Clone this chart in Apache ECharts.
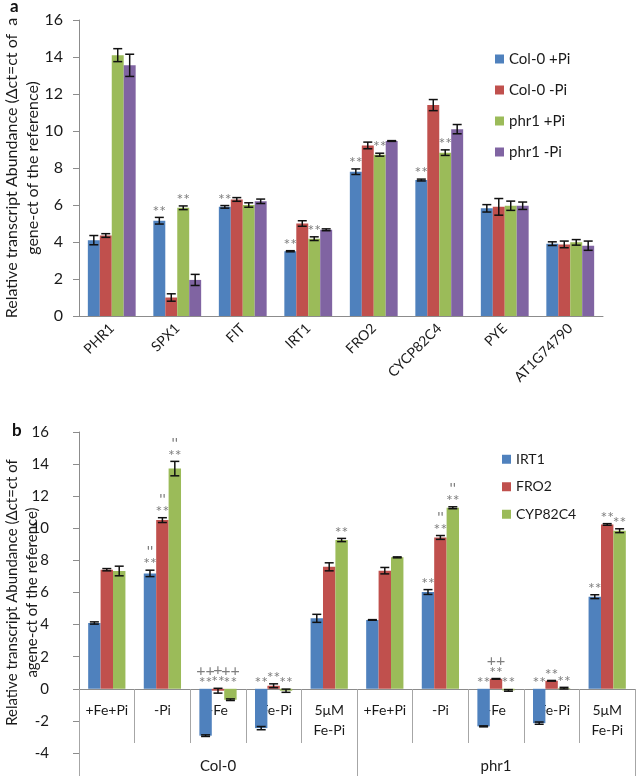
<!DOCTYPE html>
<html>
<head>
<meta charset="utf-8">
<script src="https://cdn.jsdelivr.net/npm/echarts@6/dist/echarts.min.js"></script>
<style>
html, body { margin: 0; padding: 0; background: #fff; }
#chart { width: 638px; height: 776px; }
</style>
</head>
<body>
<div id="chart"></div>
<script>
// ---- panel a ----
const genesA = ["PHR1", "SPX1", "FIT", "IRT1", "FRO2", "CYCP82C4", "PYE", "AT1G74790"];
const namesA = ["Col-0 +Pi", "Col-0 -Pi", "phr1 +Pi", "phr1 -Pi"];
const col0PlusPi = [4.1, 5.15, 5.9, 3.5, 7.8, 7.35, 5.82, 3.91];
const col0MinusPi = [4.35, 1.0, 6.3, 5.0, 9.22, 11.4, 5.9, 3.87];
const phr1PlusPi = [14.1, 5.85, 6.0, 4.18, 8.72, 8.83, 5.96, 3.98];
const phr1MinusPi = [13.55, 1.95, 6.2, 4.66, 9.46, 10.1, 5.96, 3.8];
const col0PlusPiErr = [0.25, 0.18, 0.07, 0.03, 0.15, 0.05, 0.2, 0.1];
const col0MinusPiErr = [0.1, 0.2, 0.1, 0.15, 0.18, 0.3, 0.45, 0.18];
const phr1PlusPiErr = [0.35, 0.1, 0.12, 0.1, 0.08, 0.15, 0.25, 0.15];
const phr1MinusPiErr = [0.6, 0.3, 0.12, 0.05, 0.02, 0.25, 0.2, 0.25];
const col0PlusPiMark = ["", "**", "**", "**", "**", "**", "", ""];
const col0MinusPiMark = ["", "", "", "", "", "", "", ""];
const phr1PlusPiMark = ["", "**", "", "**", "**", "**", "", ""];
const phr1MinusPiMark = ["", "", "", "", "", "", "", ""];

// ---- panel b ----
const conditionsB = ["+Fe+Pi", "-Pi", "-Fe", "-Fe-Pi", "5μM\nFe-Pi", "+Fe+Pi", "-Pi", "-Fe", "-Fe-Pi", "5μM\nFe-Pi"];
const groupsB = ["Col-0", "phr1"];
const namesB = ["IRT1", "FRO2", "CYP82C4"];
const irt1 = [4.1, 7.19, -2.92, -2.45, 4.39, 4.29, 6.03, -2.34, -2.14, 5.74];
const fro2 = [7.42, 10.51, -0.12, 0.19, 7.6, 7.36, 9.43, 0.62, 0.5, 10.24];
const cyp82c4 = [7.34, 13.72, -0.68, -0.12, 9.27, 8.19, 11.28, -0.1, 0.04, 9.85];
const irt1Err = [0.07, 0.2, 0.05, 0.1, 0.25, 0.02, 0.15, 0.03, 0.07, 0.12];
const fro2Err = [0.07, 0.15, 0.15, 0.12, 0.25, 0.2, 0.12, 0.02, 0.02, 0.05];
const cyp82c4Err = [0.3, 0.45, 0.05, 0.1, 0.1, 0.03, 0.06, 0.05, 0.05, 0.12];
const irt1Mark = ["", "''\n**", "++\n**", "**", "", "", "**", "**", "**", "**"];
const fro2Mark = ["", "''\n**", "+\n**", "**", "", "", "''\n**", "++\n**", "**", "**"];
const cyp82c4Mark = ["", "''\n**", "++\n**", "**", "**", "", "''\n**", "**", "**", "**"];

const colors = ["#4F81BD", "#C0504D", "#9BBB59", "#8064A2"];
const font = "Lato";
const axisGray = "#8c8c8c";
const divGray = "#a6a6a6";

function errSeries(name, xi, yi, vals, errs, marks, idx, n, gap) {
  return {
    type: "custom",
    name: name + " err",
    xAxisIndex: xi,
    yAxisIndex: yi,
    z: 5,
    data: vals.map((v, i) => [i, v, errs[i]]),
    renderItem: function (params, api) {
      const cat = api.value(0), val = api.value(1), err = api.value(2);
      const band = api.size([1, 0])[0];
      const bw = band * (1 - gap) / n;
      const cx = api.coord([cat, 0])[0] + (idx - (n - 1) / 2) * bw;
      const yHi = api.coord([cat, val + err])[1];
      const yLo = api.coord([cat, val - err])[1];
      const y0 = api.coord([cat, 0])[1];
      const hw = 4.5;
      const st = { stroke: "#111", lineWidth: 1.5 };
      const children = [
        { type: "line", shape: { x1: cx, y1: yHi, x2: cx, y2: yLo }, style: st },
        { type: "line", shape: { x1: cx - hw, y1: yHi, x2: cx + hw, y2: yHi }, style: st },
        { type: "line", shape: { x1: cx - hw, y1: yLo, x2: cx + hw, y2: yLo }, style: st }
      ];
      const m = marks[params.dataIndex];
      if (m) {
        children.push({
          type: "text",
          style: {
            text: m, x: cx, y: Math.min(yHi, y0),
            align: "center", verticalAlign: "bottom",
            fill: "#7f7f7f", fontSize: 16, lineHeight: 12, fontFamily: font
          }
        });
      }
      return { type: "group", children: children };
    }
  };
}

const gapA = 0.27, gapB = 0.33;
const valsA = [col0PlusPi, col0MinusPi, phr1PlusPi, phr1MinusPi];
const errsA = [col0PlusPiErr, col0MinusPiErr, phr1PlusPiErr, phr1MinusPiErr];
const marksA = [col0PlusPiMark, col0MinusPiMark, phr1PlusPiMark, phr1MinusPiMark];
const valsB = [irt1, fro2, cyp82c4];
const errsB = [irt1Err, fro2Err, cyp82c4Err];
const marksB = [irt1Mark, fro2Mark, cyp82c4Mark];

const series = [];
namesA.forEach((nm, i) => {
  series.push({
    type: "bar", name: nm, xAxisIndex: 0, yAxisIndex: 0,
    data: valsA[i], barGap: "0%", barCategoryGap: gapA * 100 + "%",
    itemStyle: { color: colors[i] }
  });
});
namesA.forEach((nm, i) => series.push(errSeries(nm, 0, 0, valsA[i], errsA[i], marksA[i], i, 4, gapA)));
namesB.forEach((nm, i) => {
  series.push({
    type: "bar", name: nm, xAxisIndex: 1, yAxisIndex: 1,
    data: valsB[i], barGap: "0%", barCategoryGap: gapB * 100 + "%",
    itemStyle: { color: colors[i] }
  });
});
namesB.forEach((nm, i) => series.push(errSeries(nm, 1, 1, valsB[i], errsB[i], marksB[i], i, 3, gapB)));

const yAxisCommon = {
  type: "value",
  splitLine: { show: false },
  axisLine: { show: true, onZero: false, lineStyle: { color: axisGray } },
  axisTick: { show: true, length: 6, lineStyle: { color: axisGray } },
  nameLocation: "middle",
  nameRotate: 90,
  nameMoveOverlap: false
};

// panel b category labels live in a flat helper grid whose bottom edge sits on y = 0 of panel b
const condKeys = conditionsB.map((c, i) => String(i));
function labelAxis(data, extra) {
  return Object.assign({
    gridIndex: 2, type: "category", position: "bottom", data: data,
    axisLine: { show: false, onZero: false },
    axisTick: { show: false },
    axisLabel: { show: false }
  }, extra);
}

const chart = echarts.init(document.getElementById("chart"));
chart.setOption({
  animation: false,
  textStyle: { fontFamily: font },
  title: [
    { text: "a", left: 5, top: -7, textStyle: { fontSize: 17, fontWeight: "bold", color: "#111", fontFamily: font } },
    { text: "b", left: 7, top: 417, textStyle: { fontSize: 17, fontWeight: "bold", color: "#111", fontFamily: font } }
  ],
  legend: [
    {
      data: namesA, orient: "vertical", left: 490, top: 46, icon: "rect",
      itemWidth: 9, itemHeight: 9, itemGap: 15,
      textStyle: { fontSize: 15, lineHeight: 16, color: "#1a1a1a", fontFamily: font }
    },
    {
      data: namesB, orient: "vertical", left: 497, top: 447, icon: "rect",
      itemWidth: 9, itemHeight: 9, itemGap: 13,
      textStyle: { fontSize: 14, lineHeight: 14.5, color: "#1a1a1a", fontFamily: font }
    }
  ],
  grid: [
    { left: 79, top: 20, width: 524, height: 296, outerBoundsMode: "none", containLabel: false },
    { left: 79, top: 432, width: 556, height: 321, outerBoundsMode: "none", containLabel: false },
    { left: 79, top: 688, width: 556, height: 1, outerBoundsMode: "none", containLabel: false }
  ],
  xAxis: [
    {
      gridIndex: 0, type: "category", data: genesA,
      axisLine: { lineStyle: { color: axisGray } },
      axisTick: { length: 5, lineStyle: { color: axisGray } },
      axisLabel: { interval: 0, rotate: 45, margin: 10, fontSize: 14, color: "#1a1a1a" }
    },
    {
      gridIndex: 1, type: "category", data: condKeys,
      axisLine: { onZero: true, onZeroAxisIndex: 1, lineStyle: { color: axisGray } },
      axisTick: { show: false },
      axisLabel: { show: false }
    },
    labelAxis(condKeys, {
      axisLabel: {
        show: true, interval: 0, margin: 11, fontSize: 14, lineHeight: 20, color: "#1a1a1a",
        formatter: (v) => conditionsB[+v]
      }
    }),
    labelAxis(condKeys, {
      axisTick: { show: true, interval: 0, length: 54, lineStyle: { color: divGray } }
    }),
    labelAxis(groupsB, {
      axisLabel: { show: true, interval: 0, margin: 70, fontSize: 15, color: "#1a1a1a" }
    }),
    labelAxis(groupsB, {
      axisTick: { show: true, interval: 0, length: 90, lineStyle: { color: divGray } }
    })
  ],
  yAxis: [
    Object.assign({}, yAxisCommon, {
      gridIndex: 0, min: 0, max: 16, interval: 2,
      axisLabel: { margin: 16, fontSize: 16, color: "#1a1a1a" },
      name: "Relative transcript Abundance (Δct=ct of  a\ngene-ct of the reference)",
      nameGap: 36,
      nameTextStyle: { fontSize: 16, lineHeight: 21, color: "#1a1a1a", fontFamily: font }
    }),
    Object.assign({}, yAxisCommon, {
      gridIndex: 1, min: -4, max: 16, interval: 2,
      axisLabel: { margin: 30, fontSize: 15, color: "#1a1a1a" },
      name: "Relative transcript Abundance (Δct=ct of\nagene-ct of the reference)",
      nameGap: 37,
      nameTextStyle: { fontSize: 15, lineHeight: 20, color: "#1a1a1a", fontFamily: font }
    }),
    { gridIndex: 2, type: "value", show: false, min: 0, max: 1 }
  ],
  series: series
});
window.addEventListener("resize", () => chart.resize());
</script>
</body>
</html>
